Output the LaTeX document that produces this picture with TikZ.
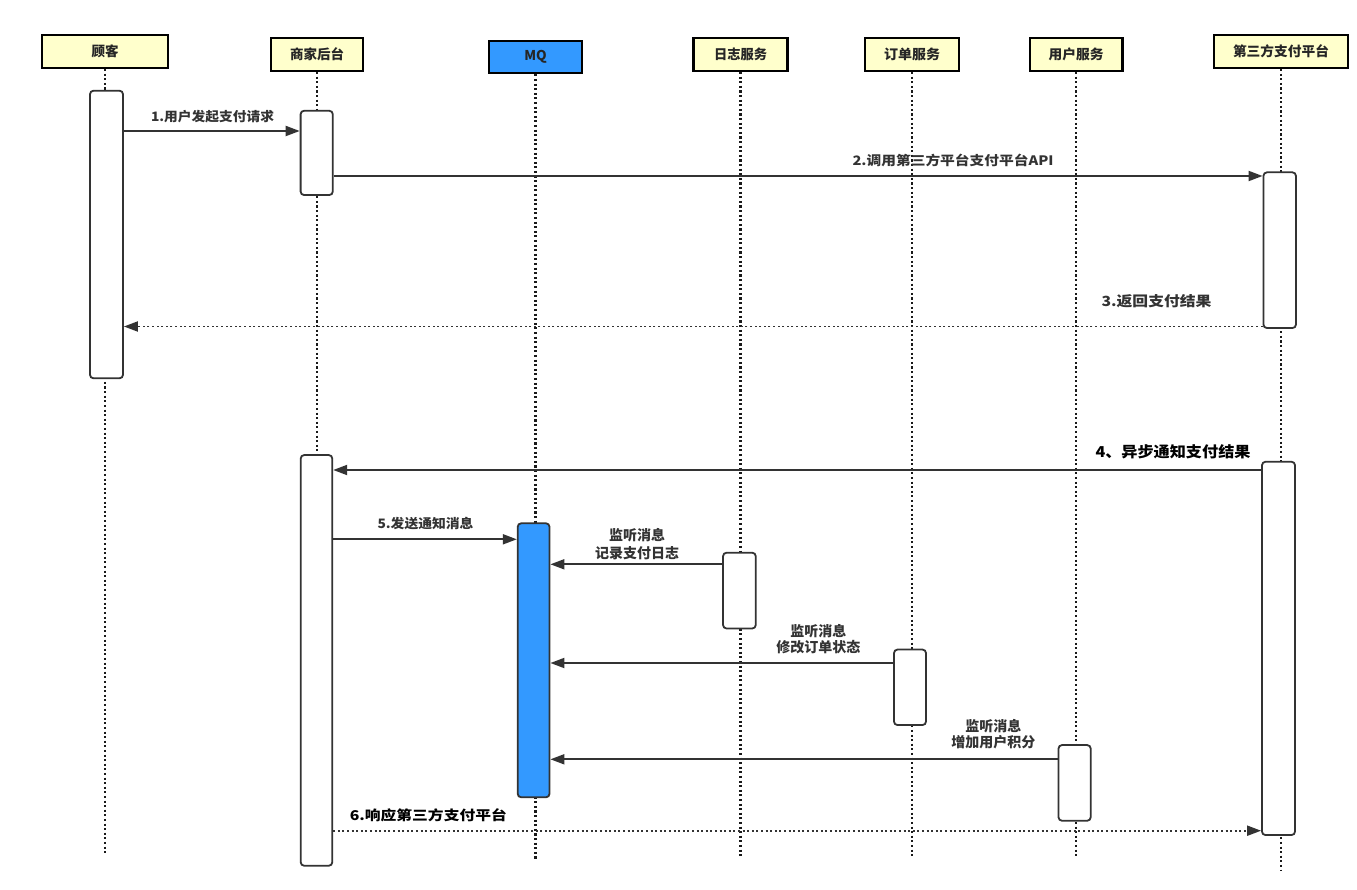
\documentclass[tikz,border=0pt]{standalone}
\usepackage{fontspec}
\usepackage{graphicx}
\setmainfont{Noto Sans CJK SC}
\usetikzlibrary{arrows.meta}
\definecolor{hdrY}{HTML}{FFFFCC}
\definecolor{mqB}{HTML}{3399FF}
\definecolor{ink}{HTML}{333333}
\newcommand{\wfit}[2]{\resizebox{#1pt}{\height}{#2}}
\begin{document}
\begin{tikzpicture}[x=1pt,y=-1pt,
  hdr/.style={draw=black, line width=2.2pt, fill=hdrY, inner sep=0, minimum height=33pt, font=\fontsize{13.5}{15}\selectfont\bfseries, text=black!85},
  act/.style={draw=ink, line width=1.8pt, fill=white, rounded corners=3.5pt, inner sep=0},
  life/.style={draw=black!90, line width=2.1pt, dash pattern=on 2.1pt off 2.5pt},
  msg/.style={draw=ink, line width=1.9pt, -{Triangle[length=14pt,width=10pt]}},
  ret/.style={msg, dash pattern=on 2pt off 2.6pt},
  lbl/.style={inner sep=0, text=ink},
]
\useasboundingbox (0,0) rectangle (1357,890);
\fill[white] (0,0) rectangle (1357,890);

% headers
\node[hdr, minimum width=126.7pt] (hk) at (105,51.5) {\wfit{27}{顾客}};
\node[hdr, minimum width=92.5pt] (hs) at (317,54.5) {\wfit{54}{商家后台}};
\node[hdr, minimum width=93pt, minimum height=32.6pt, fill=mqB] (hm) at (535.5,57) {MQ};
\node[hdr, minimum width=94pt] (hr) at (740.5,54.5) {\wfit{53}{日志服务}};
\node[hdr, minimum width=93.3pt] (hd) at (912,54.5) {\wfit{56}{订单服务}};
\node[hdr, minimum width=92.8pt] (hy) at (1076,54.5) {\wfit{55}{用户服务}};
\node[hdr, minimum width=134.4pt] (hf) at (1281,51.5) {\wfit{96}{第三方支付平台}};

% lifeline ends
\coordinate (ek) at (105,855);
\coordinate (es) at (317,865);
\coordinate (em) at (535.5,859);
\coordinate (er) at (740.5,857);
\coordinate (ed) at (912,857);
\coordinate (ey) at (1076,857);
\coordinate (ef) at (1281,870);
\draw[life] (hk.south) -- (ek);
\draw[life] (hs.south) -- (es);
\draw[life] (hm.south) -- (em);
\draw[life] (hr.south) -- (er);
\draw[life] (hd.south) -- (ed);
\draw[life] (hy.south) -- (ey);
\draw[life] (hf.south) -- (ef);

% activations
\node[act, minimum width=33pt, minimum height=287.6pt] (kh1) at (106.5,234.5) {};
\node[act, minimum width=32.2pt, minimum height=84.3pt] (sj1) at (316.7,152.9) {};
\node[act, minimum width=31.6pt, minimum height=410.7pt] (sj2) at (316.5,660.4) {};
\node[act, minimum width=31.8pt, minimum height=274pt, fill=mqB] (mq1) at (533.6,660.3) {};
\node[act, minimum width=32.7pt, minimum height=75.8pt] (rz1) at (739.4,590.6) {};
\node[act, minimum width=32pt, minimum height=75.5pt] (dd1) at (910,687.3) {};
\node[act, minimum width=32.2pt, minimum height=75.7pt] (yh1) at (1074.6,782.9) {};
\node[act, minimum width=32.5pt, minimum height=155.7pt] (sf1) at (1279.7,250.2) {};
\node[act, minimum width=33pt, minimum height=373.3pt] (sf2) at (1278.5,648.4) {};

% message levels
\coordinate (m1) at (0,131);
\coordinate (m2) at (0,176);
\coordinate (m3) at (0,326.5);
\coordinate (m4) at (0,470);
\coordinate (m5) at (0,539.3);
\coordinate (m7) at (0,564.3);
\coordinate (m8) at (0,663);
\coordinate (m9) at (0,759.3);
\coordinate (m6) at (0,830.7);

\draw[msg] (kh1.east |- m1) -- (sj1.west |- m1);
\draw[msg] (sj1.east |- m2) -- (sf1.west |- m2);
\draw[ret] (sf1.west |- m3) -- (kh1.east |- m3);
\draw[msg] (sf2.west |- m4) -- (sj2.east |- m4);
\draw[msg] (sj2.east |- m5) -- (mq1.west |- m5);
\draw[msg] (rz1.west |- m7) -- (mq1.east |- m7);
\draw[msg] (dd1.west |- m8) -- (mq1.east |- m8);
\draw[msg] (yh1.west |- m9) -- (mq1.east |- m9);
\draw[ret] (sj2.east |- m6) -- (sf2.west |- m6);

% labels
\node[lbl, font=\fontsize{13}{15}\selectfont\bfseries] (t1) at (212.5,117) {\wfit{123}{1.用户发起支付请求}};
\node[lbl, font=\fontsize{13}{15}\selectfont\bfseries] (t2) at (953,160.8) {\wfit{201}{2.调用第三方平台支付平台API}};
\node[lbl, font=\fontsize{14}{16}\selectfont\bfseries] (t3) at (1156.5,301.7) {\wfit{110}{3.返回支付结果}};
\node[lbl, font=\fontsize{15}{17}\selectfont\bfseries, text=black] (t4) at (1173,452) {\wfit{155}{4、异步通知支付结果}};
\node[lbl, font=\fontsize{13}{15}\selectfont\bfseries] (t5) at (425.5,524) {\wfit{96}{5.发送通知消息}};
\node[lbl, font=\fontsize{13.5}{15}\selectfont\bfseries, text=black] (t6) at (428.3,815.7) {\wfit{157}{6.响应第三方支付平台}};
\node[lbl, align=center, font=\fontsize{14}{18.3}\selectfont\bfseries] (t7) at (637,544.2) {监听消息\\记录支付日志};
\node[lbl, align=center, font=\fontsize{14}{16.6}\selectfont\bfseries] (t8) at (818.3,639) {监听消息\\修改订单状态};
\node[lbl, align=center, font=\fontsize{14}{16.6}\selectfont\bfseries] (t9) at (993.3,734) {监听消息\\增加用户积分};
\end{tikzpicture}
\end{document}
